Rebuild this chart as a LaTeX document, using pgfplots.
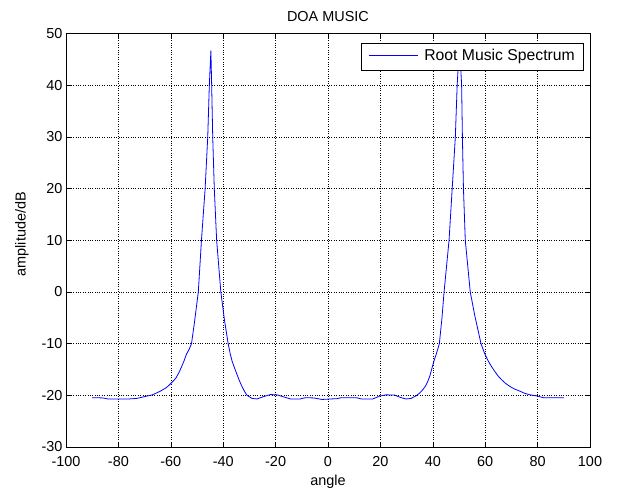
\documentclass[border=0pt]{standalone}
\usepackage{fontspec}
\setmainfont{Liberation Sans}
\usepackage{pgfplots}
\pgfplotsset{compat=1.18}
\definecolor{mblue}{RGB}{0,0,255}
\begin{document}
\begin{tikzpicture}
\path[use as bounding box] (-66bp,-41bp) rectangle (552bp,447bp);
\begin{axis}[
  at={(0bp,0bp)}, anchor=south west,
  scale only axis, width=524bp, height=413.3bp,
  xmin=-100, xmax=100, ymin=-30, ymax=50,
  xtick distance=20, ytick distance=10,
  grid=major,
  major grid style={black, dotted, line width=0.45pt},
  tick align=inside, major tick length=5bp,
  tick style={black, line width=0.5pt},
  axis line style={black, line width=0.7pt},
  font=\fontsize{14.5}{16}\selectfont,
  /pgf/number format/assume math mode=true,
  xticklabel style={yshift=-6bp},
  title={DOA MUSIC},
  title style={at={(axis description cs:0.5,1.029)}, anchor=base, yshift=-5.5bp},
  xlabel={angle},
  xlabel style={at={(axis description cs:0.5,-0.092)}, anchor=base},
  ylabel={amplitude/dB},
  ylabel style={at={(axis description cs:-0.084,0.515)}, anchor=center},
  legend style={at={(0.9866,0.9775)}, anchor=north east, draw=none,
    fill=none, inner xsep=6bp, inner ysep=4bp,
    font=\fontsize{15.8}{17}\selectfont},
  legend cell align=left,
  legend image code/.code={%
    \draw[mblue, line width=0.8pt] (0bp,0bp) -- (49bp,0bp);
    \path[draw=none] (0bp,0bp) -- (53bp,0bp);},
]
\addplot[mblue, line width=0.8pt] coordinates {
(-90,-20.45) (-86,-20.5) (-84,-20.7) (-80,-20.7) (-76,-20.7) (-73,-20.6)
(-70,-20.25) (-67,-19.9) (-64,-19.2) (-63,-18.9) (-62,-18.6) (-61,-18.2)
(-60,-17.7) (-59,-17.2) (-58,-16.6) (-57,-15.7) (-56,-14.6) (-55,-13.4)
(-54,-12.0) (-53,-11.1) (-52.1,-10) (-51,-6) (-49.5,0) (-48.3,10)
(-46.9,20) (-45.9,30) (-45.3,40) (-44.7,46.7) (-44.4,40) (-44.0,30)
(-43.4,20) (-42.5,10) (-40.9,0) (-39.5,-5.5) (-38.1,-10) (-37.3,-12)
(-36.6,-13.4) (-35.6,-14.8) (-34.7,-16) (-33.8,-17.2) (-32.8,-18.3)
(-31.8,-19.3) (-30.9,-20) (-29,-20.6) (-27.1,-20.7) (-24.6,-20.25)
(-22,-19.85) (-19.5,-19.9) (-16.9,-20.3) (-14.4,-20.7) (-10.6,-20.7)
(-8.6,-20.45) (-5.5,-20.5) (-2.3,-20.8) (1,-20.7) (3.4,-20.65) (5.1,-20.45)
(10.8,-20.45) (12.7,-20.7) (17.1,-20.7) (19.7,-20.15) (22.2,-19.9)
(25.4,-19.95) (27.9,-20.45) (29.8,-20.7) (31.7,-20.6) (33.6,-20.1)
(34.9,-19.6) (36.2,-18.9) (37.2,-18.2) (38.1,-17.3) (38.9,-16.2)
(39.7,-14.7) (40.3,-13.6) (41,-12.5) (41.7,-11.4) (42.5,-10) (43.5,-5)
(44.3,0) (46.2,10) (47.4,20) (48.6,30) (49.3,40) (50.2,48) (51.0,40)
(51.3,30) (51.7,20) (52.4,10) (54.3,0) (56,-4.5) (58.4,-10) (59.7,-11.8)
(61.2,-13.4) (62.5,-14.5) (63.7,-15.4) (65,-16.3) (66.3,-17) (67.8,-17.7)
(69.5,-18.3) (71.3,-18.8) (73.3,-19.2) (75,-19.6) (77.1,-19.9) (79.6,-20.1)
(82.2,-20.45) (90,-20.45)
};
\addlegendentry{Root Music Spectrum}
% legend frame, drawn over the curve
\draw[black, line width=0.7pt, fill=white]
  (axis description cs:0.563,0.912) rectangle (axis description cs:0.9866,0.9775);
\end{axis}
\end{tikzpicture}
\end{document}
